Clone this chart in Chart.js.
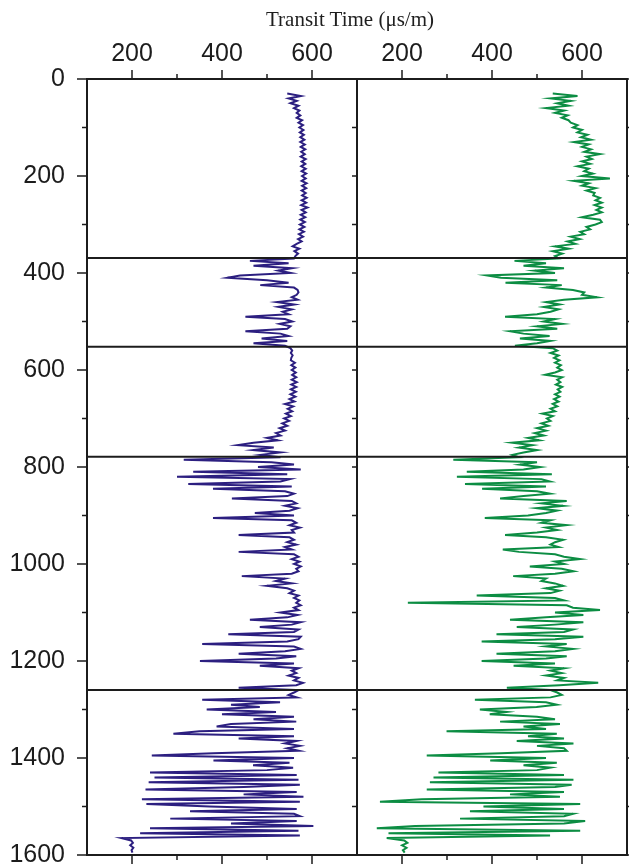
<!DOCTYPE html>
<html>
<head>
<meta charset="utf-8">
<script src="https://cdn.jsdelivr.net/npm/chart.js@4.4.0/dist/chart.umd.min.js"></script>
<style>
  html, body { margin: 0; padding: 0; background: #fff; }
  #wrap { position: relative; width: 629px; height: 867px; overflow: hidden; }
  #wrap canvas { position: absolute; left: 0; top: 0; }
  #title {
    position: absolute; left: 200px; width: 300px; top: 7px; z-index: 2;
    text-align: center; font: 21px "Liberation Serif", serif; color: #1e1e1e;
  }
</style>
</head>
<body>
<div id="wrap">
  <div id="title">Transit Time (μs/m)</div>
  <canvas id="leftLog" width="629" height="867"></canvas>
  <canvas id="rightLog" width="629" height="867"></canvas>
</div>
<script>
// axis ranges
const timeMin = 100, timeMax = 700;
const depthMin = 0, depthMax = 1600;

// both logs are sampled every 5 m starting at 30 m
const depthTop = 30, depthStep = 5;

// formation boundaries (m)
const boundaryDepths = [369, 552, 779, 1260];

// transit time, left log (us/m), one row = 50 m
const blueTransit = [
  545, 575, 548, 566, 552, 570, 560, 572, 566, 574,   //   30
  566, 578, 570, 580, 572, 581, 573, 582, 574, 583,   //   80
  574, 584, 575, 585, 576, 584, 575, 586, 577, 585,   //  130
  576, 586, 577, 587, 578, 586, 577, 588, 578, 587,   //  180
  577, 586, 578, 588, 577, 587, 576, 590, 577, 586,   //  230
  575, 585, 574, 584, 573, 583, 572, 582, 571, 580,   //  280
  569, 577, 566, 557, 572, 561, 569, 563, 560, 462,   //  330
  548, 470, 556, 525, 552, 440, 412, 500, 548, 485,   //  380
  560, 568, 570, 566, 555, 568, 522, 560, 525, 555,   //  430
  535, 548, 452, 540, 556, 528, 552, 545, 452, 530,   //  480
  548, 488, 545, 470, 540, 552, 556, 553, 557, 554,   //  530
  553, 562, 554, 563, 555, 564, 556, 565, 555, 566,   //  580
  554, 565, 553, 564, 552, 563, 550, 561, 540, 558,   //  630
  546, 556, 542, 553, 538, 549, 534, 545, 528, 540,   //  680
  520, 530, 500, 524, 470, 435, 515, 470, 530, 485,   //  730
  530, 315, 510, 560, 480, 575, 336, 545, 300, 551,   //  780
  530, 325, 555, 380, 540, 560, 545, 422, 555, 565,   //  830
  540, 568, 550, 473, 560, 380, 555, 565, 550, 573,   //  880
  555, 560, 437, 550, 560, 545, 565, 540, 555, 437,   //  930
  560, 570, 555, 572, 560, 575, 565, 570, 555, 444,   //  980
  540, 520, 555, 500, 545, 560, 550, 570, 560, 572,   // 1030
  565, 575, 560, 570, 530, 568, 545, 462, 575, 555,   // 1080
  484, 570, 560, 414, 575, 570, 545, 356, 560, 575,   // 1130
  540, 437, 565, 520, 351, 560, 484, 570, 555, 565,   // 1180
  548, 570, 560, 580, 565, 437, 570, 560, 548, 566,   // 1230
  356, 529, 420, 484, 366, 520, 400, 560, 470, 565,   // 1280
  420, 388, 560, 350, 292, 560, 437, 565, 540, 573,   // 1330
  545, 570, 381, 244, 560, 381, 550, 469, 558, 500,   // 1380
  240, 566, 250, 570, 237, 573, 448, 230, 566, 448,   // 1430
  581, 222, 573, 232, 373, 566, 329, 560, 573, 285,   // 1480
  566, 420, 603, 240, 570, 218, 573, 177, 198, 202,   // 1530
  196, 203, 199, 201                                  // 1580
];

// transit time, right log (us/m)
const greenTransit = [
  535, 590, 530, 575, 545, 570, 520, 560, 540, 568,   //   30
  555, 570, 575, 590, 580, 600, 590, 612, 598, 620,   //   80
  582, 615, 600, 620, 605, 640, 610, 622, 600, 618,   //  130
  590, 615, 605, 624, 600, 662, 582, 615, 600, 630,   //  180
  610, 628, 625, 640, 630, 644, 628, 644, 632, 644,   //  230
  625, 600, 640, 644, 630, 610, 618, 596, 605, 575,   //  280
  595, 568, 585, 540, 570, 535, 556, 540, 548, 450,   //  330
  520, 470, 560, 495, 540, 388, 420, 545, 430, 555,   //  380
  520, 580, 605, 600, 633, 560, 520, 550, 515, 548,   //  430
  530, 500, 429, 540, 515, 556, 500, 545, 440, 470,   //  480
  528, 462, 530, 500, 451, 535, 545, 530, 548, 538,   //  530
  550, 540, 553, 545, 555, 540, 518, 556, 545, 552,   //  580
  542, 556, 546, 552, 540, 550, 538, 548, 535, 545,   //  630
  530, 540, 512, 535, 522, 530, 510, 525, 500, 520,   //  680
  495, 515, 480, 505, 445, 490, 460, 500, 470, 445,   //  730
  460, 314, 500, 462, 507, 470, 344, 533, 322, 510,   //  780
  529, 340, 520, 378, 500, 529, 470, 418, 566, 510,   //  830
  558, 500, 545, 520, 480, 384, 530, 510, 566, 520,   //  880
  545, 500, 429, 520, 558, 540, 530, 548, 424, 460,   //  930
  540, 560, 596, 540, 560, 484, 555, 581, 540, 447,   //  980
  520, 510, 540, 558, 520, 550, 530, 366, 540, 560,   // 1030
  213, 566, 580, 640, 540, 603, 520, 440, 603, 540,   // 1080
  455, 580, 560, 410, 603, 540, 377, 566, 520, 580,   // 1130
  540, 410, 566, 520, 377, 540, 448, 560, 530, 555,   // 1180
  520, 560, 545, 636, 550, 433, 530, 545, 555, 530,   // 1230
  362, 520, 544, 499, 373, 433, 395, 500, 540, 418,   // 1280
  551, 470, 520, 299, 544, 480, 560, 455, 581, 500,   // 1330
  560, 566, 420, 255, 520, 396, 544, 470, 530, 500,   // 1380
  281, 560, 270, 581, 262, 577, 540, 255, 560, 440,   // 1430
  551, 244, 151, 596, 381, 560, 351, 580, 560, 329,   // 1480
  607, 560, 229, 144, 596, 170, 529, 166, 205, 212,   // 1530
  200, 210, 202, 206                                  // 1580
];

const ink = '#1c1c1c';
const tickFont = { family: 'Liberation Sans', size: 25 };

function toPoints(values) {
  return values.map((t, i) => ({ x: t, y: depthTop + i * depthStep }));
}

// keep the plot frames fixed: no extra room for overhanging labels
function noOverhang(s) {
  s.paddingTop = 0; s.paddingBottom = 0;
  s.paddingLeft = 0; s.paddingRight = 0;
}

// frame around each panel plus outward tick marks (long at labelled values)
const frameTicks = {
  id: 'frameTicks',
  afterDraw(chart, args, opts) {
    const { ctx, chartArea: a } = chart;
    const xs = chart.scales.x, ys = chart.scales.y;
    ctx.save();
    ctx.strokeStyle = ink;
    ctx.lineWidth = 1.5;
    ctx.beginPath();
    xs.ticks.forEach(t => {
      if (t.value <= timeMin || t.value >= timeMax) return;
      const px = xs.getPixelForValue(t.value);
      const len = t.value % 200 === 0 ? 9 : 5;
      ctx.moveTo(px, a.top); ctx.lineTo(px, a.top - len);
      ctx.moveTo(px, a.bottom); ctx.lineTo(px, a.bottom + len);
    });
    ys.ticks.forEach(t => {
      const py = ys.getPixelForValue(t.value);
      const major = t.value % 200 === 0;
      const lenL = opts.longLeft && major ? 10 : 5;
      ctx.moveTo(a.left, py); ctx.lineTo(a.left - lenL, py);
      if (opts.right) { ctx.moveTo(a.right, py); ctx.lineTo(a.right + (major ? 10 : 5), py); }
    });
    ctx.stroke();
    ctx.lineWidth = 2;
    ctx.strokeRect(a.left, a.top, a.right - a.left, a.bottom - a.top);
    ctx.restore();
  }
};

function logPanel(id, values, colour, isLeft) {
  const boundaries = boundaryDepths.map(d => ({
    data: [{ x: timeMin, y: d }, { x: timeMax, y: d }],
    borderColor: ink, borderWidth: 2, showLine: true, pointRadius: 0
  }));
  return new Chart(document.getElementById(id), {
    type: 'scatter',
    data: {
      datasets: boundaries.concat([{
        data: toPoints(values),
        borderColor: colour,
        borderWidth: 2,
        showLine: true,
        pointRadius: 0,
        tension: 0
      }])
    },
    options: {
      responsive: false,
      animation: false,
      events: [],
      layout: {
        padding: isLeft ? { left: 0, right: 272, top: 0, bottom: 12 }
                        : { left: 357, right: 2, top: 0, bottom: 12 }
      },
      plugins: {
        legend: { display: false },
        tooltip: { enabled: false },
        frameTicks: { longLeft: isLeft, right: !isLeft }
      },
      scales: {
        x: {
          type: 'linear', position: 'top', min: timeMin, max: timeMax,
          ticks: {
            stepSize: 100, autoSkip: false, maxRotation: 0, minRotation: 0,
            padding: 10, color: ink, font: tickFont,
            callback: v => (v % 200 === 0 ? String(v) : '')
          },
          grid: { display: false, drawTicks: false },
          border: { display: false },
          afterFit: s => { s.height = 79; noOverhang(s); }
        },
        y: {
          type: 'linear', reverse: true, min: depthMin, max: depthMax,
          ticks: {
            display: isLeft, stepSize: 100, autoSkip: false,
            padding: 22, color: ink, font: tickFont,
            callback: v => (v % 200 === 0 ? String(v) : '')
          },
          grid: { display: false, drawTicks: false },
          border: { display: false },
          afterFit: s => { s.width = isLeft ? 87 : 0; noOverhang(s); }
        }
      }
    },
    plugins: [frameTicks]
  });
}

logPanel('leftLog', blueTransit, '#2c1f80', true);
logPanel('rightLog', greenTransit, '#0c8d43', false);
</script>
</body>
</html>
